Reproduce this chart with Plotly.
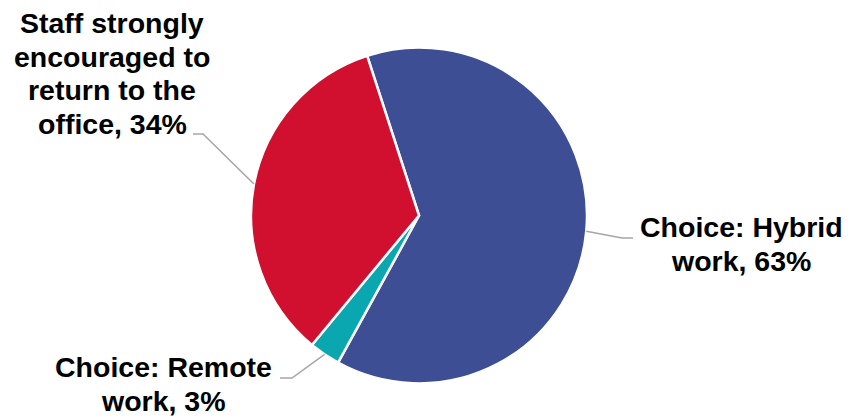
import math
import plotly.graph_objects as go

labels = ["Choice: Hybrid work", "Choice: Remote work", "Staff strongly encouraged to return to the office"]
values = [63, 3, 34]
label_lines = [["Choice: Hybrid", "work, 63%"],
               ["Choice: Remote", "work, 3%"],
               ["Staff strongly", "encouraged to", "return to the", "office, 34%"]]
colors = ["#3E4E95", "#0BA7B1", "#D10F2E"]

W, H = 849, 419
cx, cy, R = 419, 215.5, 168
rotation = -18
FS = 28.5
LINE = 33.5

fig = go.Figure(go.Pie(
    labels=labels, values=values, sort=False, direction="clockwise",
    rotation=rotation, textinfo="none", hoverinfo="label+percent",
    marker=dict(colors=colors, line=dict(color="white", width=2.5)),
    domain=dict(x=[(cx - R) / W, (cx + R) / W], y=[(H - cy - R) / H, (H - cy + R) / H]),
    showlegend=False,
))

# label placement (pixels): text centre x, first baseline y, elbow point, end point near text
label_pos = [dict(tx=741, by=237, elbow=(622, 238), end=(633, 238)),
             dict(tx=163, by=377, elbow=(292, 378), end=(280, 378)),
             dict(tx=112, by=33, elbow=(203, 134), end=(193, 134))]

def px(x):
    return x / W

def py(y):
    return 1 - y / H

total = sum(values)
start = rotation
shapes, annotations = [], []
for v, lines, lp in zip(values, label_lines, label_pos):
    span = v / total * 360
    mid = math.radians(start + span / 2)
    start += span
    ex, ey = cx + R * math.sin(mid), cy - R * math.cos(mid)
    (bx, by), (fx, fy) = lp["elbow"], lp["end"]
    shapes.append(dict(type="path", xref="paper", yref="paper",
                       path=f"M {px(ex)},{py(ey)} L {px(bx)},{py(by)} L {px(fx)},{py(fy)}",
                       line=dict(color="#A6A6A6", width=1.5)))
    for i, t in enumerate(lines):
        yc = lp["by"] + i * LINE - 0.35 * FS
        annotations.append(dict(text=t, x=px(lp["tx"]), y=py(yc), xref="paper", yref="paper",
                                showarrow=False, xanchor="center", yanchor="middle", align="center",
                                font=dict(family="Liberation Sans, Arial, sans-serif", size=FS,
                                          color="black", weight=700)))

fig.update_layout(width=W, height=H, margin=dict(l=0, r=0, t=0, b=0),
                  paper_bgcolor="white", plot_bgcolor="white",
                  shapes=shapes, annotations=annotations)
fig.write_html("out.html", config={"displayModeBar": False},
               post_script="document.body.style.margin='0';")
